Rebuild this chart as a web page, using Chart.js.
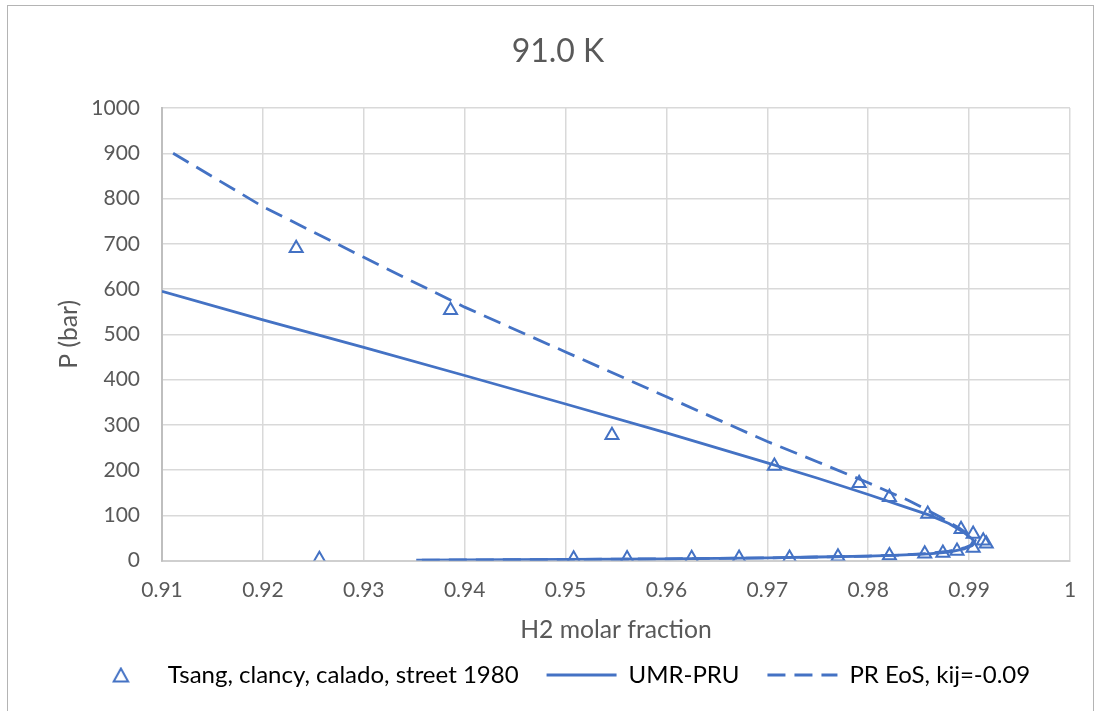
<!DOCTYPE html>
<html>
<head>
<meta charset="utf-8">
<title>91.0 K</title>
<script src="https://cdn.jsdelivr.net/npm/chart.js@4.4.0/dist/chart.umd.min.js"></script>
<style>
  html, body { margin: 0; padding: 0; background: #fff; }
  #contenedor { position: relative; width: 1101px; height: 711px; overflow: hidden; }
  #marco {
    position: absolute; left: 7px; top: 5px; width: 1087px; height: 730px;
    border: 1px solid #b4b4b4; box-sizing: border-box;
  }
  canvas { position: absolute; left: 0; top: 0; }
</style>
</head>
<body>
<div id="contenedor">
  <div id="marco"></div>
  <canvas id="grafico" width="1101" height="711"></canvas>
</div>
<script>
// Tsang, Clancy, Calado, Street (1980): fraccion molar de H2 y presion (bar)
const tsangX = [0.9233, 0.9386, 0.9546, 0.9707, 0.9791, 0.9821, 0.9859, 0.9892, 0.9904, 0.9914, 0.9917,
  0.9904, 0.9888, 0.9874, 0.9856, 0.9821, 0.9770, 0.9722, 0.9672, 0.9625, 0.9561, 0.9508, 0.9256];
const tsangP = [690, 553, 277, 209, 171, 140, 103, 69, 59, 44, 37,
  28, 21, 17, 15, 11, 8.5, 6, 5.5, 5, 4.5, 4, 3];

// UMR-PRU: rama superior hasta el punto critico y vuelta por la rama inferior
const umrX = [0.9100, 0.9200, 0.9300, 0.9400, 0.9500, 0.9600, 0.9700, 0.9750, 0.9800, 0.9840, 0.9860,
  0.9880, 0.9895, 0.9903, 0.9905, 0.9903, 0.9895, 0.9880, 0.9860, 0.9830, 0.9800, 0.9750, 0.9700,
  0.9650, 0.9600, 0.9550, 0.9500, 0.9450, 0.9400, 0.9352];
const umrP = [595, 532, 471, 409, 346, 282, 216, 182, 146, 116, 101,
  82, 62, 48, 40, 33, 26, 19, 15, 12, 10, 8, 6,
  5, 4, 3, 2.5, 2, 1.5, 1];

// PR EoS con kij = -0.09
const prX = [0.9111, 0.9200, 0.9300, 0.9400, 0.9500, 0.9600, 0.9700, 0.9750, 0.9800, 0.9840, 0.9870,
  0.9890, 0.9900, 0.9906, 0.9904, 0.9895, 0.9880, 0.9860, 0.9830, 0.9800, 0.9750, 0.9700, 0.9600,
  0.9500, 0.9400, 0.9350];
const prP = [900, 782, 670, 560, 461, 362, 263, 218, 172, 133, 98,
  72, 57, 45, 36, 28, 21, 16, 12, 10, 8, 6, 4,
  2.5, 1.5, 1];

const ticksX = [0.91, 0.92, 0.93, 0.94, 0.95, 0.96, 0.97, 0.98, 0.99, 1];
const ticksY = [0, 100, 200, 300, 400, 500, 600, 700, 800, 900, 1000];

const azul = "#4472C4";
const grisTexto = "#595959";
const fuente = "Lato, 'Open Sans', sans-serif";

function aPuntos(xs, ys) {
  return xs.map((x, i) => ({ x: x, y: ys[i] }));
}

// simbolo de triangulo para la leyenda (pointStyleWidth deformaria el triangulo nativo)
function trianguloLeyenda() {
  const c = document.createElement("canvas");
  c.width = 18;
  c.height = 16;
  const ctx = c.getContext("2d");
  ctx.strokeStyle = azul;
  ctx.lineWidth = 2;
  ctx.beginPath();
  ctx.moveTo(9, 1.5);
  ctx.lineTo(16.2, 14.5);
  ctx.lineTo(1.8, 14.5);
  ctx.closePath();
  ctx.stroke();
  return c;
}

const datasets = [
  {
    label: "Tsang, clancy, calado, street 1980",
    data: aPuntos(tsangX, tsangP),
    showLine: false,
    pointStyle: "triangle",
    pointRadius: 7.5,
    pointBorderWidth: 2,
    pointBorderColor: azul,
    pointBackgroundColor: "rgba(255,255,255,0)",
    borderColor: azul,
    backgroundColor: "rgba(255,255,255,0)",
  },
  {
    label: "UMR-PRU",
    data: aPuntos(umrX, umrP),
    showLine: true,
    borderColor: azul,
    borderWidth: 2.8,
    pointRadius: 0,
    pointHoverRadius: 0,
    tension: 0,
  },
  {
    label: "PR EoS, kij=-0.09",
    data: aPuntos(prX, prP),
    showLine: true,
    borderColor: azul,
    borderWidth: 2.8,
    borderDash: [18, 9],
    pointRadius: 0,
    pointHoverRadius: 0,
    tension: 0,
  },
];

// la leyenda toma el estilo de los puntos; para las curvas se usa la linea del dataset
function etiquetasLeyenda(chart) {
  const items = Chart.defaults.plugins.legend.labels.generateLabels(chart);
  items.forEach((item) => {
    const ds = chart.data.datasets[item.datasetIndex];
    if (ds.showLine) {
      item.pointStyle = "line";
      item.lineWidth = ds.borderWidth;
      item.lineDash = ds.borderDash || [];
      item.strokeStyle = ds.borderColor;
    } else {
      item.pointStyle = trianguloLeyenda();
    }
  });
  return items;
}

const config = {
  type: "scatter",
  data: { datasets },
  options: {
    responsive: false,
    animation: false,
    devicePixelRatio: 1,
    layout: { padding: { left: 46, right: 31, top: 0, bottom: 14 } },
    plugins: {
      title: {
        display: true,
        text: "91.0 K",
        color: grisTexto,
        font: { family: fuente, size: 32, weight: "normal" },
        padding: { top: 32.8, bottom: 36.8 },
      },
      legend: {
        position: "bottom",
        labels: {
          color: "#000",
          font: { family: fuente, size: 24 },
          usePointStyle: true,
          pointStyleWidth: 70,
          boxHeight: 10.6,
          padding: 28,
          generateLabels: etiquetasLeyenda,
        },
      },
      tooltip: { enabled: false },
    },
    scales: {
      x: {
        type: "linear",
        min: 0.91,
        max: 1,
        afterBuildTicks: (scale) => {
          scale.ticks = ticksX.map((v) => ({ value: v }));
        },
        afterFit: (scale) => {
          scale.height = 74.4;
        },
        ticks: {
          color: grisTexto,
          font: { family: fuente, size: 21 },
          padding: 16.8,
          maxRotation: 0,
          autoSkip: false,
          callback: (v) => String(Number(v.toFixed(2))),
        },
        grid: { color: "#d9d9d9", lineWidth: 1.5, drawTicks: false },
        border: { color: "#cfcfcf", width: 2 },
        title: {
          display: true,
          text: "H2 molar fraction",
          color: grisTexto,
          font: { family: fuente, size: 24.7 },
          padding: { top: 13.6, bottom: -9.8 },
        },
      },
      y: {
        type: "linear",
        min: 0,
        max: 1000,
        afterBuildTicks: (scale) => {
          scale.ticks = ticksY.map((v) => ({ value: v }));
        },
        afterFit: (scale) => {
          scale.width = 116;
        },
        ticks: {
          color: grisTexto,
          font: { family: fuente, size: 21 },
          padding: 22,
          callback: (v) => String(v),
        },
        grid: { color: "#d9d9d9", lineWidth: 1.5, drawTicks: false },
        border: { color: "#bfbfbf", width: 2 },
        title: {
          display: true,
          text: "P (bar)",
          color: grisTexto,
          font: { family: fuente, size: 24.7 },
          padding: { top: 8.2, bottom: 0 },
        },
      },
    },
  },
};

const lienzo = document.getElementById("grafico");
new Chart(lienzo, config);
</script>
</body>
</html>
